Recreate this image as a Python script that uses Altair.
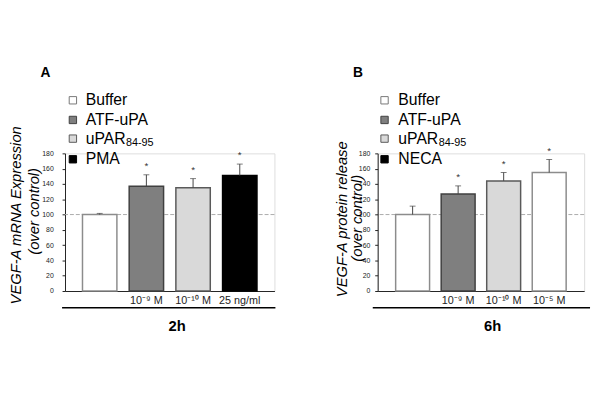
import altair as alt
import pandas as pd

# ---- data ----
treat_a = ["Buffer", "ATF-uPA", "uPAR84-95", "PMA"]
dose_a = ["", "10⁻⁹ M", "10⁻¹⁰ M", "25 ng/ml"]
mean_a = [100, 137, 135, 151]
err_a = [1.5, 15, 12, 15]
stars_a = ["", "*", "*", "*"]

treat_b = ["Buffer", "ATF-uPA", "uPAR84-95", "NECA"]
dose_b = ["", "10⁻⁹ M", "10⁻¹⁰ M", "10⁻⁵ M"]
mean_b = [100, 127, 144, 155]
err_b = [11, 10.5, 11, 17]
stars_b = ["", "*", "*", "*"]

y_ticks = [0, 20, 40, 60, 80, 100, 120, 140, 160, 180]
control_level = [100]

fills = ["#ffffff", "#7f7f7f", "#d9d9d9", "#000000"]
strokes = ["#8c8c8c", "#404040", "#5a5a5a", "#000000"]

FONT = "Liberation Sans"


def txt(label, x, y, size, **kw):
    return alt.Chart(pd.DataFrame({"t": [label]})).mark_text(
        fontSize=size, font=FONT, **kw
    ).encode(x=alt.value(x), y=alt.value(y), text="t:N")


def panel(letter, treat, dose, mean, err, stars, ylines, time_label, width,
          p_in, p_out, lab_pad, ypos, legend_names, ul, time_x):
    df = pd.DataFrame({
        "treat": treat, "dose": dose, "mean": mean, "err": err, "star": stars,
    })
    df["top"] = df["mean"] + df["err"]
    mapping = "{" + ",".join(f"'{t}':'{d}'" for t, d in zip(treat, dose)) + "}"
    xenc = alt.X("treat:N", sort=treat,
                 scale=alt.Scale(domain=treat, paddingInner=p_in, paddingOuter=p_out),
                 axis=alt.Axis(title=None, labelExpr=f"{mapping}[datum.value]",
                               ticks=False, labelAngle=0, labelFontSize=11,
                               labelPadding=4, labelColor="#222", domainColor="#222",
                               labelFont=FONT))
    yscale = alt.Scale(domain=[0, 180], nice=False)
    yaxis = alt.Axis(title=None, values=y_ticks, grid=False, tickSize=3,
                     labelFontSize=7, labelPadding=lab_pad, labelColor="#222",
                     domainColor="#222", tickColor="#222", labelFont=FONT,
                     labelOverlap=False)
    base = alt.Chart(df)
    bars = base.mark_bar(strokeWidth=1.5).encode(
        x=xenc,
        y=alt.Y("mean:Q", scale=yscale, axis=yaxis),
        fill=alt.Fill("treat:N", scale=alt.Scale(domain=treat, range=fills), legend=None),
        stroke=alt.Stroke("treat:N", scale=alt.Scale(domain=treat, range=strokes), legend=None),
    )
    ref = alt.Chart(pd.DataFrame({"v": control_level})).mark_rule(
        color="#aaaaaa", strokeDash=[4, 2], strokeWidth=1
    ).encode(y=alt.Y("v:Q", scale=yscale, axis=yaxis))
    ebar = base.mark_rule(color="#444444", strokeWidth=1).encode(
        x=alt.X("treat:N", sort=treat), y=alt.Y("mean:Q", axis=yaxis), y2="top:Q")
    cap = base.mark_tick(color="#444444", size=6, thickness=1, orient="horizontal").encode(
        x=alt.X("treat:N", sort=treat), y=alt.Y("top:Q", axis=yaxis))
    star = base.mark_text(fontSize=10, dy=-9, color="#333333", font=FONT).encode(
        x=alt.X("treat:N", sort=treat), y=alt.Y("top:Q", axis=yaxis), text="star:N")

    layers = [ref, bars, ebar, cap, star]
    # legend
    legend_y = [-54, -34, -15, 6]
    for i, name in enumerate(legend_names):
        layers.append(
            alt.Chart(pd.DataFrame({"t": [name]})).mark_square(
                size=56, fill=fills[i], stroke=strokes[i] if i != 0 else "#777777",
                strokeWidth=1, opacity=1
            ).encode(x=alt.value(ypos[0]), y=alt.value(legend_y[i]))
        )
        if name.startswith("uPAR"):
            layers.append(txt("uPAR", ypos[1], legend_y[i], 16, align="left", baseline="middle"))
            layers.append(txt("84-95", ypos[1] + 41, legend_y[i] + 5, 11, align="left", baseline="middle"))
        else:
            layers.append(txt(name, ypos[1], legend_y[i], 16, align="left", baseline="middle"))
    # panel letter
    layers.append(txt(letter, -20, -82, 14, fontWeight="bold", baseline="middle"))
    # y title lines
    for line, lx, ly in ylines:
        layers.append(txt(line, lx, ly, 15, angle=270, fontStyle="italic", baseline="middle"))
    # underline and time label
    layers.append(alt.Chart(pd.DataFrame({"t": [0]})).mark_rule(
        color="#000000", strokeWidth=1.5).encode(
        x=alt.value(ul[0]), x2=alt.value(ul[1]), y=alt.value(157)))
    layers.append(txt(time_label, time_x, 176, 15, fontWeight="bold", baseline="middle"))
    return alt.layer(*layers).properties(width=width, height=140)


pa = panel("A", treat_a, dose_a, mean_a, err_a, stars_a,
           [("VEGF-A mRNA Expression", -49.5, 63), ("(over control)", -31, 59)],
           "2h", 213, 0.263, 0.374, 9, (8, 21),
           ["Buffer", "ATF-uPA", "uPAR84-95", "PMA"], (-3, 214), 114)
pb = panel("B", treat_b, dose_b, mean_b, err_b, stars_b,
           [("VEGF-A protein release", -36, 67), ("(over control)", -21, 66)],
           "6h", 210, 0.255, 0.395, 5, (7, 21),
           ["Buffer", "ATF-uPA", "uPAR84-95", "NECA"], (-5, 216), 117)

chart = alt.hconcat(pa, pb, spacing=105, bounds="flush").properties(
    padding={"left": 0, "top": 55, "right": 0, "bottom": 5}
).configure_view(stroke=None).configure(font=FONT)

chart.save("out.html", embed_options={"renderer": "svg", "actions": False})
